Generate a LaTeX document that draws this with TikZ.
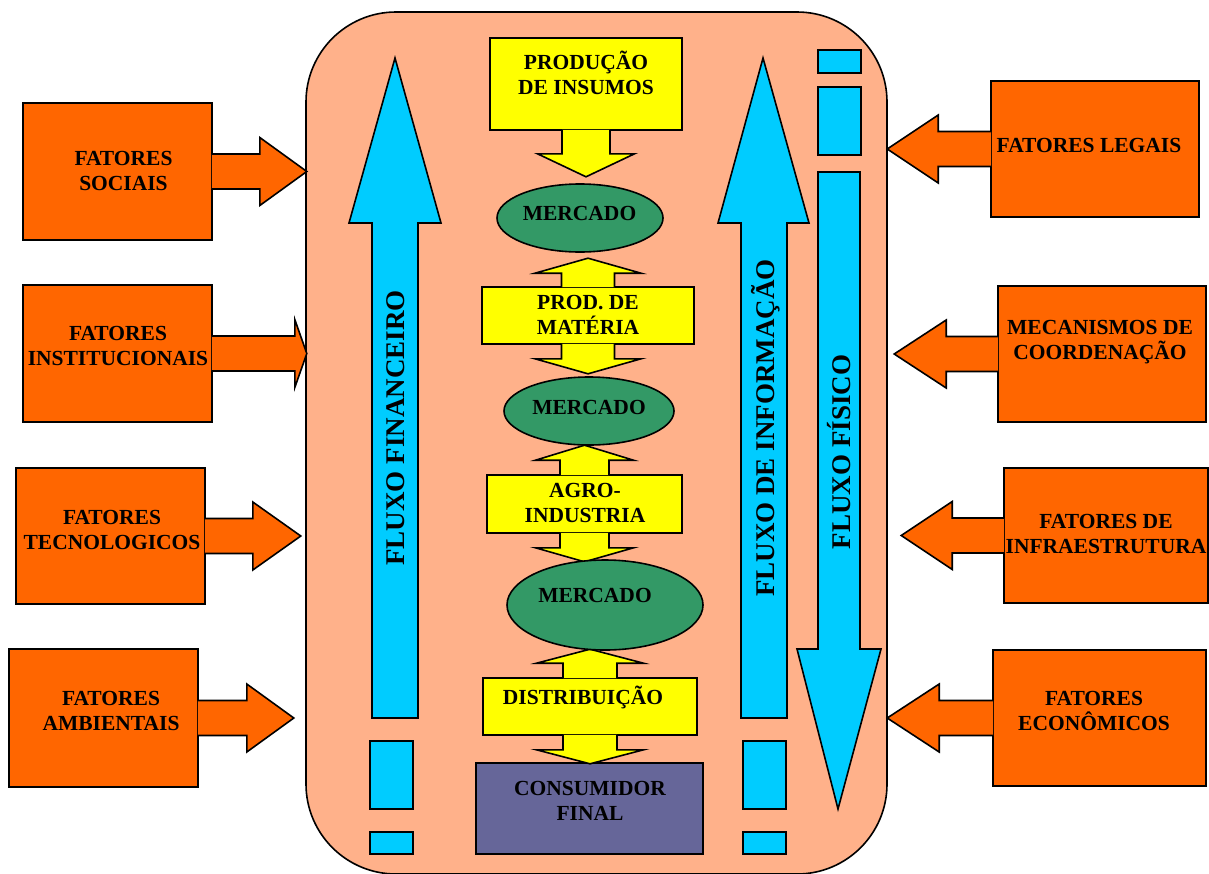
\documentclass[tikz,border=0pt]{standalone}
\usepackage{fontspec}
\setmainfont{Liberation Serif}
\usepackage{xcolor}
\usetikzlibrary{shapes.geometric}

\definecolor{laranja}{HTML}{FF6600}
\definecolor{salmao}{HTML}{FFB18A}
\definecolor{azul}{HTML}{00CCFF}
\definecolor{amarelo}{HTML}{FFFF00}
\definecolor{verde}{HTML}{339966}
\definecolor{roxo}{HTML}{666699}

\tikzset{
    pics/setah/.style args={#1/#2}{code={
        \draw[fill=laranja, line width=1.6pt] (-1,-17.5) -- (#1,-17.5) -- (#1,-34) -- (#2,0) -- (#1,34) -- (#1,17.5) -- (-1,17.5);
    }},
    pics/setav/.style args={#1/#2/#3/#4}{code={
        \draw[fill=amarelo, line width=1.6pt] (-#1,-1) -- (-#1,#2) -- (-#3,#2) -- (0,#2+#4) -- (#3,#2) -- (#1,#2) -- (#1,-1);
    }}
}

\begin{document}
\begin{tikzpicture}[x=1pt, y=-1pt,
        fator/.style={draw, fill=laranja, line width=1.6pt, inner sep=0pt},
        caixa/.style={draw, fill=amarelo, line width=1.6pt, inner sep=0pt},
        mercado/.style={draw, ellipse, fill=verde, line width=1.6pt, inner sep=0pt},
        fluxo/.style={draw, fill=azul, line width=1.6pt},
        texto/.style={align=center, inner sep=0pt, font=\bfseries\fontsize{21.5}{25}\selectfont},
        rotfluxo/.style={rotate=90, inner sep=0pt, font=\bfseries\fontsize{27}{30}\selectfont}
    ]
    \useasboundingbox (0,0) rectangle (1209,873);

    % cadeia (fundo)
    \node[draw, fill=salmao, line width=1.6pt, rounded corners=90pt, minimum width=581pt, minimum height=862pt] (cadeia) at (596.5,443) {};

    % fluxo financeiro
    \draw[fluxo] (372,718) -- (372,223) -- (349,223) -- (395,58) -- (441,223) -- (418,223) -- (418,718) -- cycle;
    \draw[fluxo] (370,741) rectangle (413,809);
    \draw[fluxo] (370,832) rectangle (413,854);

    % fluxo de informacao
    \draw[fluxo] (741,718) -- (741,223) -- (718,223) -- (763,58) -- (809,223) -- (787,223) -- (787,718) -- cycle;
    \draw[fluxo] (743,741) rectangle (786,809);
    \draw[fluxo] (743,832) rectangle (786,854);

    % fluxo fisico
    \draw[fluxo] (818,172) -- (818,649) -- (797,649) -- (838,809) -- (881,649) -- (860,649) -- (860,172) -- cycle;
    \draw[fluxo] (818,50) rectangle (861,73);
    \draw[fluxo] (818,87) rectangle (861,155);

    % elos da cadeia
    \node[caixa, minimum width=192pt, minimum height=92pt] (prod) at (586,84) {};
    \node[caixa, minimum width=212pt, minimum height=57pt] (mat) at (588,315.5) {};
    \node[caixa, minimum width=195pt, minimum height=58pt] (agro) at (584.5,504) {};
    \node[caixa, minimum width=214pt, minimum height=57pt] (dist) at (590,706.5) {};
    \node[caixa, fill=roxo, minimum width=227pt, minimum height=91pt] (cons) at (589.5,808.5) {};

    \pic at (prod.south) {setav=24/23/48.5/23};
    \pic[yscale=-1] at (mat.north) {setav=26.5/13/53/15};
    \pic at (mat.south) {setav=26.5/14/53/15};
    \pic[yscale=-1] at (agro.north) {setav=24.5/14/49/15};
    \pic at (agro.south) {setav=24.5/14/49/14};
    \pic[yscale=-1] at (dist.north) {setav=27/14/53.5/14};
    \pic at (dist.south) {setav=27/14/53.5/14};

    \node[mercado, minimum width=166pt, minimum height=68pt] (m1) at (580,218) {};
    \node[mercado, minimum width=170pt, minimum height=68pt] (m2) at (589,411) {};
    \node[mercado, minimum width=196pt, minimum height=90pt] (m3) at (605,605) {};

    % fatores externos
    \node[fator, minimum width=189pt, minimum height=137pt] (soc) at (117.5,171.5) {};
    \node[fator, minimum width=189pt, minimum height=137pt] (inst) at (117.5,353.5) {};
    \node[fator, minimum width=189pt, minimum height=136pt] (tec) at (110.5,536) {};
    \node[fator, minimum width=189pt, minimum height=138pt] (amb) at (103.5,718) {};
    \node[fator, minimum width=208pt, minimum height=136pt] (leg) at (1095,149) {};
    \node[fator, minimum width=208pt, minimum height=136pt] (mec) at (1102,354) {};
    \node[fator, minimum width=204pt, minimum height=135pt] (infra) at (1106,535.5) {};
    \node[fator, minimum width=213pt, minimum height=136pt] (econ) at (1099.5,718) {};

    \pic at (soc.east) {setah=47/94};
    \pic at (inst.east) {setah=82/94};
    \pic at (tec.east) {setah=47/95};
    \pic at (amb.east) {setah=48/95};
    \pic[xscale=-1] at (leg.west) {setah=52/103};
    \pic[xscale=-1] at (mec.west) {setah=51/103};
    \pic[xscale=-1] at (infra.west) {setah=51/102};
    \pic[xscale=-1] at (econ.west) {setah=53/105};

    % textos
    \node[texto] (tprod) at (586,72.5) {PRODUÇÃO\\DE INSUMOS};
    \node[texto] (tm1) at (579.5,213) {MERCADO};
    \node[texto] (tmat) at (588,315) {PROD. DE\\MATÉRIA};
    \node[texto] (tm2) at (589,407) {MERCADO};
    \node[texto] (tagro) at (585,503) {AGRO-\\INDUSTRIA};
    \node[texto] (tm3) at (595,595) {MERCADO};
    \node[texto] (tdist) at (583,697) {DISTRIBUIÇÃO};
    \node[texto] (tcons) at (590,800.5) {CONSUMIDOR\\FINAL};

    \node[texto] (tsoc) at (123.5,170.5) {FATORES\\SOCIAIS};
    \node[texto] (tinst) at (118,346) {FATORES\\INSTITUCIONAIS};
    \node[texto] (ttec) at (112,530) {FATORES\\TECNOLOGICOS};
    \node[texto] (tamb) at (111,711) {FATORES\\AMBIENTAIS};
    \node[texto] (tleg) at (1089,145) {FATORES LEGAIS};
    \node[texto] (tmec) at (1100,342.5) {MECANISMOS DE\\COORDENAÇÃO};
    \node[texto] (tinfra) at (1106,533.5) {FATORES DE\\INFRAESTRUTURA};
    \node[texto] (tecon) at (1094,711) {FATORES\\ECONÔMICOS};

    \node[rotfluxo] (tfin) at (396,428) {FLUXO FINANCEIRO};
    \node[rotfluxo] (tinf) at (766,428) {FLUXO DE INFORMAÇÃO};
    \node[rotfluxo] (tfis) at (839,452) {FLUXO FÍSICO};
\end{tikzpicture}
\end{document}
